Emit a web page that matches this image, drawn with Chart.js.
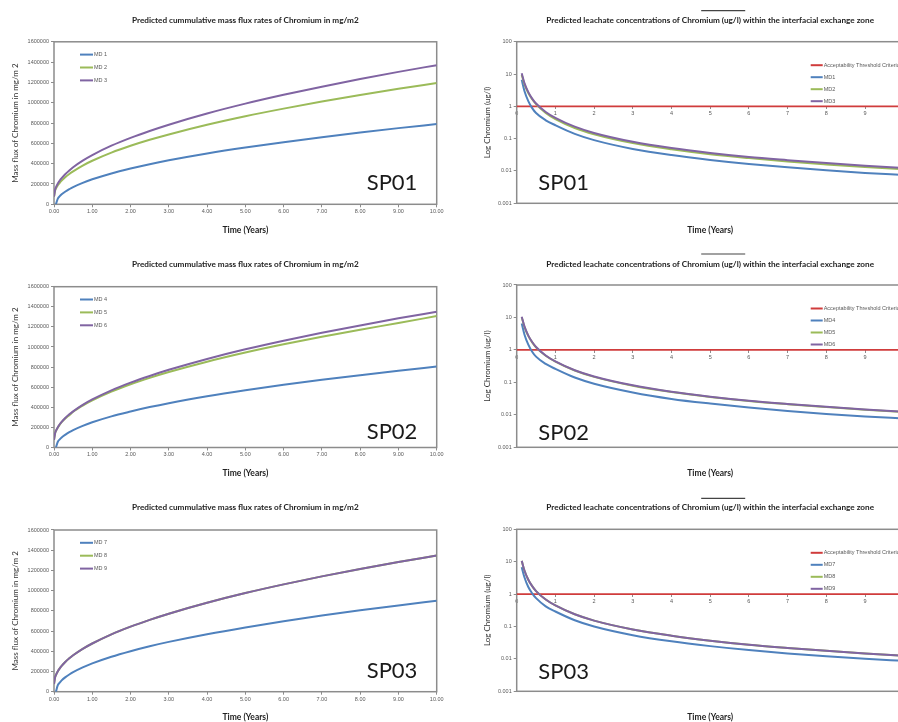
<!DOCTYPE html>
<html>
<head>
<meta charset="utf-8">
<script src="https://cdn.jsdelivr.net/npm/chart.js@4.4.1/dist/chart.umd.min.js"></script>
<style>
  html, body { margin: 0; padding: 0; background: #fff; overflow: hidden; width: 898px; height: 722px; }
  canvas { position: absolute; }
</style>
</head>
<body>
<canvas id="flux1"></canvas>
<canvas id="conc1"></canvas>
<canvas id="flux2"></canvas>
<canvas id="conc2"></canvas>
<canvas id="flux3"></canvas>
<canvas id="conc3"></canvas>
<script>
// --- data ---
const fluxYears = [0, 0.03, 0.05, 0.1, 0.15, 0.2, 0.3, 0.4, 0.5, 0.75, 1, 1.5, 2, 2.5, 3, 4, 5, 6, 7, 8, 9, 10];
const md1Flux = [null, null, 0, 56000, 80000, 98000, 126000, 149000, 170000, 211000, 246000, 304000, 352000, 395000, 433000, 500000, 559000, 612000, 661000, 707000, 750000, 790000];
const md2Flux = [75000, 136000, 154000, 187000, 212000, 233000, 269000, 299000, 325000, 382000, 429000, 509000, 576000, 635000, 688000, 783000, 867000, 942000, 1012000, 1076000, 1137000, 1194000];
const md3Flux = [75000, 146000, 167000, 204000, 234000, 258000, 299000, 334000, 365000, 430000, 485000, 577000, 654000, 722000, 784000, 894000, 991000, 1078000, 1158000, 1233000, 1304000, 1370000];
const md4Flux = [null, null, 0, 57000, 81000, 100000, 128000, 152000, 173000, 215000, 251000, 310000, 358000, 402000, 441000, 509000, 569000, 624000, 674000, 720000, 764000, 805000];
const md5Flux = [75000, 143000, 164000, 200000, 227000, 252000, 290000, 322000, 355000, 417000, 469000, 556000, 629000, 693000, 751000, 854000, 945000, 1027000, 1102000, 1172000, 1239000, 1308000];
const md6Flux = [75000, 145000, 165000, 202000, 231000, 255000, 296000, 330000, 360000, 424000, 478000, 569000, 645000, 712000, 773000, 881000, 977000, 1063000, 1142000, 1215000, 1285000, 1350000];
const md7Flux = [null, null, 0, 64000, 90000, 112000, 144000, 170000, 193000, 240000, 280000, 346000, 401000, 450000, 493000, 569000, 636000, 697000, 753000, 805000, 854000, 900000];
const md8Flux = [75000, 145000, 165000, 202000, 231000, 255000, 296000, 330000, 360000, 424000, 477000, 568000, 644000, 711000, 772000, 880000, 976000, 1062000, 1141000, 1214000, 1283000, 1348000];
const md9Flux = [75000, 145000, 165000, 202000, 231000, 255000, 296000, 330000, 360000, 424000, 477000, 568000, 644000, 711000, 772000, 880000, 976000, 1062000, 1141000, 1214000, 1283000, 1348000];

const concYears = [0.13, 0.2, 0.3, 0.4, 0.5, 0.75, 1, 1.5, 2, 3, 4, 5, 6, 7, 8, 9, 10];
const md1Conc = [6.6, 3.0, 1.45, 0.88, 0.62, 0.37, 0.26, 0.14, 0.09, 0.048, 0.031, 0.022, 0.0165, 0.013, 0.0105, 0.0087, 0.0075];
const md2Conc = [9.4, 4.85, 2.58, 1.66, 1.17, 0.62, 0.40, 0.213, 0.137, 0.073, 0.047, 0.033, 0.025, 0.0196, 0.016, 0.0133, 0.0113];
const md3Conc = [10.5, 5.25, 2.75, 1.74, 1.22, 0.67, 0.44, 0.235, 0.15, 0.080, 0.051, 0.036, 0.027, 0.0216, 0.0176, 0.0146, 0.0124];
const md4Conc = [6.5, 3.0, 1.45, 0.88, 0.62, 0.37, 0.26, 0.141, 0.091, 0.049, 0.031, 0.0222, 0.0167, 0.0132, 0.0107, 0.0089, 0.0077];
const md5Conc = [10.2, 5.15, 2.7, 1.71, 1.2, 0.66, 0.435, 0.232, 0.148, 0.079, 0.0505, 0.0357, 0.0268, 0.0213, 0.0174, 0.0144, 0.0123];
const md6Conc = [10.5, 5.3, 2.76, 1.75, 1.23, 0.675, 0.443, 0.237, 0.152, 0.081, 0.0515, 0.0363, 0.0272, 0.0217, 0.0177, 0.0147, 0.0125];
const md7Conc = [6.8, 3.3, 1.65, 1.05, 0.75, 0.42, 0.29, 0.156, 0.1, 0.054, 0.0348, 0.0248, 0.0187, 0.0148, 0.0121, 0.0101, 0.0087];
const md8Conc = [10.6, 5.35, 2.78, 1.76, 1.24, 0.68, 0.445, 0.238, 0.152, 0.081, 0.052, 0.0365, 0.0273, 0.0218, 0.0178, 0.0148, 0.0126];
const md9Conc = [10.6, 5.35, 2.78, 1.76, 1.24, 0.68, 0.445, 0.238, 0.152, 0.081, 0.052, 0.0365, 0.0273, 0.0218, 0.0178, 0.0148, 0.0126];

const thresholdYears = [0, 10];
const thresholdConc = [1, 1];

const fluxTicks = [0, 200000, 400000, 600000, 800000, 1000000, 1200000, 1400000, 1600000];
const logTicks = [0.001, 0.01, 0.1, 1, 10, 100];
const yearTicks = [0, 1, 2, 3, 4, 5, 6, 7, 8, 9, 10];

// --- styles ---
const BLUE = '#4f81bd', GREEN = '#9bbb59', PURPLE = '#8064a2', RED = '#d03c3c';
const GRAY = '#595959', FRAME = '#8c8c8c';
const TITLE_FONT = { family: 'Lato', size: 8.2, weight: 'bold', lineHeight: 1.2 };
const AXIS_FONT = { family: 'Lato', size: 8, lineHeight: 1.2 };
const XTITLE_FONT = { family: 'Lato', size: 8.5, weight: 'bold', lineHeight: 1.2 };
const TICK_FONT = { family: 'Liberation Sans', size: 5.5 };

function points(xs, ys) {
  return xs.map((x, i) => ({ x: x, y: ys[i] }));
}

const framePlugin = {
  id: 'frame',
  beforeDatasetsDraw(chart) {
    const a = chart.chartArea, ctx = chart.ctx;
    ctx.save();
    ctx.strokeStyle = FRAME;
    ctx.lineWidth = 1.5;
    ctx.strokeRect(a.left, a.top, a.right - a.left, a.bottom - a.top);
    ctx.restore();
  }
};

function innerLegend(dx, dy, gap, len) {
  return {
    id: 'innerLegend',
    afterDatasetsDraw(chart) {
      const a = chart.chartArea, ctx = chart.ctx;
      ctx.save();
      ctx.font = '5.5px "Liberation Sans"';
      ctx.textBaseline = 'middle';
      chart.data.datasets.forEach((ds, i) => {
        const x = a.left + dx, y = a.top + dy + i * gap;
        ctx.strokeStyle = ds.borderColor;
        ctx.lineWidth = 2;
        ctx.beginPath();
        ctx.moveTo(x, y);
        ctx.lineTo(x + len, y);
        ctx.stroke();
        ctx.fillStyle = GRAY;
        ctx.fillText(ds.label, x + len + 1, y);
      });
      ctx.restore();
    }
  };
}

function spLabel(text, fromLeft, dx, dy) {
  return {
    id: 'spLabel',
    afterDatasetsDraw(chart) {
      const a = chart.chartArea, ctx = chart.ctx;
      ctx.save();
      ctx.font = '22px Lato';
      ctx.fillStyle = '#1a1a1a';
      ctx.textBaseline = 'alphabetic';
      ctx.fillText(text, fromLeft ? a.left + dx : a.right - dx, a.bottom - dy);
      ctx.restore();
    }
  };
}

// short dark rule that sits above the right-hand titles
const overline = {
  id: 'overline',
  afterDraw(chart) {
    const a = chart.chartArea, ctx = chart.ctx;
    const cx = (a.left + a.right) / 2;
    ctx.save();
    ctx.strokeStyle = '#444';
    ctx.lineWidth = 1.2;
    ctx.beginPath();
    ctx.moveTo(cx - 9, a.top - 31);
    ctx.lineTo(cx + 35, a.top - 31);
    ctx.stroke();
    ctx.restore();
  }
};

function place(id, g) {
  const cv = document.getElementById(id);
  cv.width = g.w;
  cv.height = g.h;
  cv.style.left = g.x + 'px';
  cv.style.top = g.y + 'px';
  return cv;
}

function titlePad(g) {
  const lh = TITLE_FONT.size * TITLE_FONT.lineHeight;
  const top = g.titleY - g.y - lh / 2;
  return { top: top, bottom: g.t - g.y - top - lh };
}

function xTitle(g) {
  const lh = XTITLE_FONT.size * XTITLE_FONT.lineHeight;
  return { display: true, text: 'Time (Years)', font: XTITLE_FONT, color: '#222',
           padding: { top: 0, bottom: g.y + g.h - g.xTitleY - lh / 2 } };
}

function yTitle(g, text) {
  const lh = AXIS_FONT.size * AXIS_FONT.lineHeight;
  return { display: true, text: text, font: AXIS_FONT, color: '#333',
           padding: { top: g.yTitleX - g.x - lh / 2, bottom: 0 } };
}

function fluxChart(id, g, names, series, sp) {
  const colors = [BLUE, GREEN, PURPLE];
  return new Chart(place(id, g), {
    type: 'line',
    data: {
      datasets: names.map((n, i) => ({
        label: n,
        data: points(fluxYears, series[i]),
        borderColor: colors[i],
        backgroundColor: colors[i],
        borderWidth: 2,
        pointRadius: 0,
        cubicInterpolationMode: 'monotone',
        order: names.length - i
      }))
    },
    options: {
      responsive: false,
      animation: false,
      devicePixelRatio: 1,
      layout: { padding: { left: 0, top: 0, right: g.x + g.w - g.r, bottom: 0 } },
      plugins: {
        legend: { display: false },
        tooltip: { enabled: false },
        title: {
          display: true, fullSize: false,
          text: 'Predicted cummulative mass flux rates of Chromium in mg/m2',
          font: TITLE_FONT, color: '#222', padding: titlePad(g)
        }
      },
      scales: {
        x: {
          type: 'linear', min: 0, max: 10,
          afterBuildTicks: s => { s.ticks = yearTicks.map(v => ({ value: v })); },
          ticks: { font: TICK_FONT, color: GRAY, padding: 1, maxRotation: 0, autoSkip: false,
                   callback: v => v.toFixed(2) },
          grid: { display: true, drawOnChartArea: false, tickLength: 3, color: FRAME },
          border: { display: false },
          title: xTitle(g),
          afterFit: s => { s.height = g.y + g.h - g.b; }
        },
        y: {
          type: 'linear', min: 0, max: 1600000,
          afterBuildTicks: s => { s.ticks = fluxTicks.map(v => ({ value: v })); },
          ticks: { font: TICK_FONT, color: GRAY, padding: 2, autoSkip: false, callback: v => String(v) },
          grid: { display: true, drawOnChartArea: false, tickLength: 3, color: FRAME },
          border: { display: false },
          title: yTitle(g, 'Mass flux of Chromium in mg/m 2'),
          afterFit: s => { s.width = g.l - g.x; }
        }
      }
    },
    plugins: [framePlugin, innerLegend(26, 12.8, 12.9, 13), spLabel(sp.text, false, 70, sp.dy)]
  });
}

function concChart(id, g, names, series, sp) {
  const colors = [RED, BLUE, GREEN, PURPLE];
  const labels = ['Acceptability Threshold Criteria'].concat(names);
  const data = [points(thresholdYears, thresholdConc)].concat(series.map(s => points(concYears, s)));
  return new Chart(place(id, g), {
    type: 'line',
    data: {
      datasets: labels.map((n, i) => ({
        label: n,
        data: data[i],
        borderColor: colors[i],
        backgroundColor: colors[i],
        borderWidth: i === 0 ? 1.8 : 2,
        pointRadius: 0,
        cubicInterpolationMode: 'monotone',
        order: labels.length - i
      }))
    },
    options: {
      responsive: false,
      animation: false,
      devicePixelRatio: 1,
      layout: { padding: { left: 0, top: 0, right: g.x + g.w - g.r, bottom: 0 } },
      plugins: {
        legend: { display: false },
        tooltip: { enabled: false },
        title: {
          display: true, fullSize: false,
          text: 'Predicted leachate concentrations of Chromium (ug/l) within the interfacial exchange zone',
          font: TITLE_FONT, color: '#222', padding: titlePad(g)
        }
      },
      scales: {
        x: {
          type: 'linear', position: { y: 1 }, min: 0, max: 10,
          afterBuildTicks: s => { s.ticks = yearTicks.map(v => ({ value: v })); },
          ticks: { font: TICK_FONT, color: GRAY, padding: 1, maxRotation: 0, autoSkip: false,
                   callback: v => String(v) },
          grid: { display: true, drawOnChartArea: false, tickLength: 3, color: FRAME },
          border: { display: false }
        },
        x2: {
          type: 'linear', position: 'bottom', min: 0, max: 10,
          ticks: { display: false },
          grid: { display: false },
          border: { display: false },
          title: xTitle(g),
          afterFit: s => { s.height = g.y + g.h - g.b; }
        },
        y: {
          type: 'logarithmic', min: 0.001, max: 100,
          afterBuildTicks: s => { s.ticks = logTicks.map(v => ({ value: v })); },
          ticks: { font: TICK_FONT, color: GRAY, padding: 2, autoSkip: false, callback: v => String(v) },
          grid: { display: true, drawOnChartArea: false, tickLength: 3, color: FRAME },
          border: { display: false },
          title: yTitle(g, 'Log Chromium (ug/l)'),
          afterFit: s => { s.width = g.l - g.x; }
        }
      }
    },
    plugins: [framePlugin, innerLegend(294, 23.5, 12, 12), spLabel(sp.text, true, 21.6, sp.dy), overline]
  });
}

// --- panel geometry (page pixels) ---
const leftCol = { x: 0, w: 450, h: 242, l: 54, r: 436.7, yTitleX: 15 };
const rightCol = { x: 450, w: 470, h: 242, l: 516.7, r: 903.7, yTitleX: 487.7 };

fluxChart('flux1', Object.assign({}, leftCol, { y: 0, t: 41.8, b: 204.3, titleY: 20, xTitleY: 230 }),
  ['MD 1', 'MD 2', 'MD 3'], [md1Flux, md2Flux, md3Flux], { text: 'SP01', dy: 14.3 });
fluxChart('flux2', Object.assign({}, leftCol, { y: 240, t: 286.7, b: 447.5, titleY: 264, xTitleY: 473.3 }),
  ['MD 4', 'MD 5', 'MD 6'], [md4Flux, md5Flux, md6Flux], { text: 'SP02', dy: 9 });
fluxChart('flux3', Object.assign({}, leftCol, { y: 480, t: 530, b: 691.7, titleY: 507.3, xTitleY: 717.7 }),
  ['MD 7', 'MD 8', 'MD 9'], [md7Flux, md8Flux, md9Flux], { text: 'SP03', dy: 14 });

concChart('conc1', Object.assign({}, rightCol, { y: 0, t: 41.7, b: 203.3, titleY: 20, xTitleY: 230 }),
  ['MD1', 'MD2', 'MD3'], [md1Conc, md2Conc, md3Conc], { text: 'SP01', dy: 13.3 });
concChart('conc2', Object.assign({}, rightCol, { y: 240, t: 285, b: 447.3, titleY: 264, xTitleY: 473.3 }),
  ['MD4', 'MD5', 'MD6'], [md4Conc, md5Conc, md6Conc], { text: 'SP02', dy: 7.3 });
concChart('conc3', Object.assign({}, rightCol, { y: 480, t: 529.3, b: 691.3, titleY: 507.3, xTitleY: 717.3 }),
  ['MD7', 'MD8', 'MD9'], [md7Conc, md8Conc, md9Conc], { text: 'SP03', dy: 12 });
</script>
</body>
</html>
